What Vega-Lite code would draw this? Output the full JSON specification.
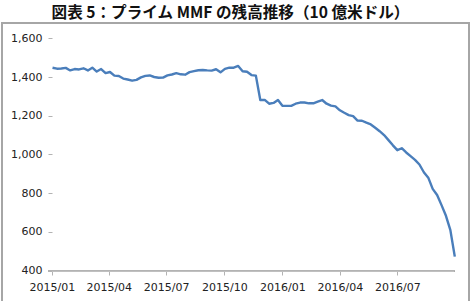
{
  "$schema": "https://vega.github.io/schema/vega-lite/v6.json",
  "width": 467,
  "height": 282,
  "autosize": {"type": "none"},
  "padding": {"left": 2, "top": 23, "right": 4, "bottom": 0},
  "background": "white",
  "config": {
    "view": {"stroke": "#a6a6a6", "strokeWidth": 2},
    "font": "DejaVu Sans"
  },
  "title": {
    "text": "図表 5：プライム MMF の残高推移（10 億米ドル）",
    "font": "Noto Sans CJK JP",
    "fontSize": 15.6,
    "fontWeight": "bold",
    "color": "#111111",
    "anchor": "middle",
    "frame": "group",
    "dx": -5,
    "offset": -10.5,
    "baseline": "alphabetic"
  },
  "data": {
    "values": [
      {"date": "2015-01-02", "value": 1448},
      {"date": "2015-01-09", "value": 1443},
      {"date": "2015-01-16", "value": 1444},
      {"date": "2015-01-23", "value": 1447},
      {"date": "2015-01-30", "value": 1434},
      {"date": "2015-02-06", "value": 1441},
      {"date": "2015-02-13", "value": 1439},
      {"date": "2015-02-20", "value": 1445},
      {"date": "2015-02-27", "value": 1434},
      {"date": "2015-03-06", "value": 1448},
      {"date": "2015-03-13", "value": 1428},
      {"date": "2015-03-20", "value": 1441},
      {"date": "2015-03-27", "value": 1420},
      {"date": "2015-04-03", "value": 1426},
      {"date": "2015-04-10", "value": 1407},
      {"date": "2015-04-17", "value": 1405},
      {"date": "2015-04-24", "value": 1392},
      {"date": "2015-05-01", "value": 1387},
      {"date": "2015-05-08", "value": 1381},
      {"date": "2015-05-15", "value": 1385},
      {"date": "2015-05-22", "value": 1398},
      {"date": "2015-05-29", "value": 1406},
      {"date": "2015-06-05", "value": 1408},
      {"date": "2015-06-12", "value": 1400},
      {"date": "2015-06-19", "value": 1396},
      {"date": "2015-06-26", "value": 1397},
      {"date": "2015-07-03", "value": 1408},
      {"date": "2015-07-10", "value": 1413},
      {"date": "2015-07-17", "value": 1420},
      {"date": "2015-07-24", "value": 1414},
      {"date": "2015-07-31", "value": 1412},
      {"date": "2015-08-07", "value": 1425},
      {"date": "2015-08-14", "value": 1430},
      {"date": "2015-08-21", "value": 1435},
      {"date": "2015-08-28", "value": 1436},
      {"date": "2015-09-04", "value": 1434},
      {"date": "2015-09-11", "value": 1433},
      {"date": "2015-09-18", "value": 1440},
      {"date": "2015-09-25", "value": 1424},
      {"date": "2015-10-02", "value": 1442},
      {"date": "2015-10-09", "value": 1448},
      {"date": "2015-10-16", "value": 1448},
      {"date": "2015-10-23", "value": 1457},
      {"date": "2015-10-30", "value": 1430},
      {"date": "2015-11-06", "value": 1427},
      {"date": "2015-11-13", "value": 1410},
      {"date": "2015-11-20", "value": 1407},
      {"date": "2015-11-27", "value": 1281},
      {"date": "2015-12-04", "value": 1282},
      {"date": "2015-12-11", "value": 1262},
      {"date": "2015-12-18", "value": 1266},
      {"date": "2015-12-25", "value": 1281},
      {"date": "2016-01-01", "value": 1251},
      {"date": "2016-01-08", "value": 1251},
      {"date": "2016-01-15", "value": 1251},
      {"date": "2016-01-22", "value": 1262},
      {"date": "2016-01-29", "value": 1268},
      {"date": "2016-02-05", "value": 1268},
      {"date": "2016-02-12", "value": 1264},
      {"date": "2016-02-19", "value": 1264},
      {"date": "2016-02-26", "value": 1273},
      {"date": "2016-03-04", "value": 1281},
      {"date": "2016-03-11", "value": 1262},
      {"date": "2016-03-18", "value": 1252},
      {"date": "2016-03-25", "value": 1248},
      {"date": "2016-04-01", "value": 1228},
      {"date": "2016-04-08", "value": 1215},
      {"date": "2016-04-15", "value": 1203},
      {"date": "2016-04-22", "value": 1198},
      {"date": "2016-04-29", "value": 1175},
      {"date": "2016-05-06", "value": 1174},
      {"date": "2016-05-13", "value": 1164},
      {"date": "2016-05-20", "value": 1155},
      {"date": "2016-05-27", "value": 1138},
      {"date": "2016-06-03", "value": 1120},
      {"date": "2016-06-10", "value": 1100},
      {"date": "2016-06-17", "value": 1074},
      {"date": "2016-06-24", "value": 1047},
      {"date": "2016-07-01", "value": 1022},
      {"date": "2016-07-08", "value": 1032},
      {"date": "2016-07-15", "value": 1010},
      {"date": "2016-07-22", "value": 991},
      {"date": "2016-07-29", "value": 972},
      {"date": "2016-08-05", "value": 948},
      {"date": "2016-08-12", "value": 908},
      {"date": "2016-08-19", "value": 880},
      {"date": "2016-08-26", "value": 822},
      {"date": "2016-09-02", "value": 790},
      {"date": "2016-09-09", "value": 738},
      {"date": "2016-09-16", "value": 683},
      {"date": "2016-09-23", "value": 609},
      {"date": "2016-09-30", "value": 472}
    ]
  },
  "layer": [
    {
      "mark": {"type": "rule", "color": "#b3b3b3", "strokeWidth": 1},
      "encoding": {
        "x": {"datum": {"year": 2014, "month": "Dec", "date": 26, "utc": true}, "type": "temporal"},
        "x2": {"datum": {"year": 2016, "month": "Sep", "date": 30, "utc": true}},
        "y": {"datum": 400, "type": "quantitative"}
      }
    },
    {
      "mark": {"type": "line", "color": "#4a7ebb", "strokeWidth": 2.4, "strokeJoin": "round"},
      "encoding": {
        "x": {
          "field": "date",
          "type": "temporal",
          "title": null,
          "scale": {
            "type": "utc",
            "domain": [
              {"year": 2014, "month": "Oct", "date": 14, "utc": true},
              {"year": 2016, "month": "Oct", "date": 22, "hours": 12, "utc": true}
            ],
            "nice": false
          },
          "axis": {
            "values": [
              {"year": 2015, "month": "Jan", "date": 1, "utc": true},
              {"year": 2015, "month": "Apr", "date": 1, "utc": true},
              {"year": 2015, "month": "Jul", "date": 1, "utc": true},
              {"year": 2015, "month": "Oct", "date": 1, "utc": true},
              {"year": 2016, "month": "Jan", "date": 1, "utc": true},
              {"year": 2016, "month": "Apr", "date": 1, "utc": true},
              {"year": 2016, "month": "Jul", "date": 1, "utc": true}
            ],
            "format": "%Y/%m",
            "offset": -34,
            "domain": false,
            "grid": false,
            "ticks": true,
            "tickSize": 4,
            "tickColor": "#b3b3b3",
            "labelFont": "DejaVu Sans",
            "labelFontSize": 11,
            "labelColor": "#222222",
            "labelPadding": 6,
            "labelFlush": false,
            "labelOverlap": false
          }
        },
        "y": {
          "field": "value",
          "type": "quantitative",
          "title": null,
          "scale": {"domain": [222, 1679], "nice": false, "zero": false},
          "axis": {
            "values": [400, 600, 800, 1000, 1200, 1400, 1600],
            "format": ",.0f",
            "offset": -50,
            "domain": false,
            "grid": false,
            "ticks": true,
            "tickSize": 4,
            "tickColor": "#b3b3b3",
            "labelFont": "DejaVu Sans",
            "labelFontSize": 11,
            "labelColor": "#222222",
            "labelPadding": 6
          }
        }
      }
    }
  ]
}
